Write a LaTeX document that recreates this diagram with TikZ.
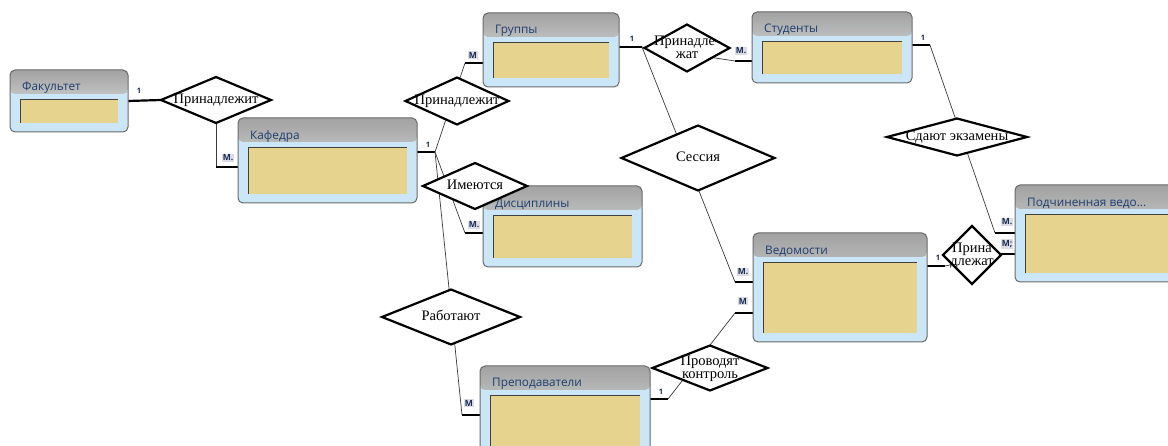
\documentclass[tikz,border=0pt]{standalone}
\usepackage{fontspec}
\setmainfont{Liberation Serif}
\newfontfamily\uifont{Open Sans}
\usetikzlibrary{shapes.geometric}
\definecolor{boxBlue}{HTML}{CBE7F7}
\definecolor{boxBorder}{HTML}{6A6A6A}
\definecolor{hdrTop}{HTML}{A2A2A2}
\definecolor{hdrBot}{HTML}{F0F2F4}
\definecolor{fieldYellow}{HTML}{E6D38D}
\definecolor{titleBlue}{HTML}{1F3E6E}
\definecolor{connGray}{HTML}{3A3A3A}
\definecolor{cardBg}{HTML}{DCDCE6}
\definecolor{cardText}{HTML}{1A2A50}
\pgfdeclarelayer{bg}
\pgfdeclarelayer{paper}
\pgfsetlayers{paper,bg,main}
\newcommand\rtext[1]{\makebox[0pt]{\smash{\raisebox{-0.3em}{\begin{tabular}[c]{@{}c@{}}#1\end{tabular}}}}}
\newcommand\entity[6]{%
  \node[ebox, minimum width={(#4-#2)*1pt}, minimum height={(#5-#3)*1pt}] (#1) at ({(#2+#4)/2},{(#3+#5)/2}) {};
  \node[efield, minimum width={(#4-#2-20)*1pt}, minimum height={(#5-#3-38)*1pt}] (#1f) at ({(#2+#4)/2},{(#3+#5+20)/2}) {};
  \draw[fline] (#1f.south west) -- (#1f.north west) -- (#1f.north east);
  \node[etitle] (#1t) at (#2+12,#3+18) {#6};
}
\begin{document}
\begin{tikzpicture}[x=1pt,y=-1pt,
  ebox/.style={draw=boxBorder, line width=1pt, rounded corners=5pt, fill=boxBlue, inner sep=0pt, outer sep=0pt,
    path picture={\shade[top color=hdrTop, bottom color=hdrBot] (path picture bounding box.north west) rectangle ([yshift=-24pt]path picture bounding box.north east);}},
  efield/.style={fill=fieldYellow, inner sep=0pt, outer sep=0pt},
  fline/.style={draw=black!75, line width=0.8pt},
  etitle/.style={anchor=west, inner sep=0pt, text=titleBlue, font=\uifont\fontsize{11.8}{13}\selectfont},
  rel/.style={diamond, draw=black, line width=2.2pt, fill=white, inner sep=0pt, outer sep=0pt, font=\fontsize{14.5}{13}\selectfont},
  conn/.style={draw=connGray, line width=0.7pt},
  stub/.style={draw=black, line width=2.2pt},
  cardone/.style={inner sep=0.5pt, text=cardText, font=\uifont\bfseries\fontsize{7.5}{8}\selectfont},
  cardm/.style={inner sep=1pt, fill=cardBg, text=cardText, font=\uifont\bfseries\fontsize{8.5}{9}\selectfont}]
\useasboundingbox (0,0) rectangle (1168,446);
\clip (0,0) rectangle (1168,446);
\begin{pgfonlayer}{paper}
\fill[white] (0,0) rectangle (1168,446);
\end{pgfonlayer}

% entities
\entity{fak}{10}{70}{128}{132}{Факультет}
\entity{kaf}{238}{118}{417}{203}{Кафедра}
\entity{grp}{483}{13}{619}{87}{Группы}
\entity{stu}{752}{12}{912}{83}{Студенты}
\entity{dis}{483}{186}{642}{267}{Дисциплины}
\entity{ved}{753}{233}{927}{342}{Ведомости}
\entity{pod}{1015}{185}{1182}{282}{Подчиненная ведо...}
\entity{pre}{480}{366}{650}{456}{Преподаватели}

% relationships
\node[rel, minimum width=110pt, minimum height=46pt] (r1) at (216,100) {\rtext{Принадлежит}};
\node[rel, minimum width=103pt, minimum height=47pt] (r2) at (457,101) {\rtext{Принадлежит}};
\node[rel, minimum width=104pt, minimum height=46pt] (r3) at (475,186) {\rtext{Имеются}};
\node[rel, minimum width=138pt, minimum height=55pt] (r4) at (451,317) {\rtext{Работают}};
\node[rel, minimum width=85pt, minimum height=47pt] (r5) at (687,48) {\rtext{Принадле-\\жат}};
\node[rel, minimum width=153pt, minimum height=65pt] (r6) at (698,158) {\rtext{Сессия}};
\node[rel, minimum width=140pt, minimum height=37pt] (r7) at (957,137) {\rtext{Сдают экзамены}};
\node[rel, minimum width=115pt, minimum height=45pt] (r8) at (710,368) {\rtext{Проводят\\контроль}};
\node[rel, minimum width=58pt, minimum height=58pt] (r9) at (972,255) {\rtext{Прина\\длежат}};

% connection points
\coordinate (kafM) at (218,167);
\coordinate (kafJ) at (435,152);
\coordinate (grpM) at (465,63);
\coordinate (disM) at (465,233);
\coordinate (preM) at (462,415);
\coordinate (grpJ) at (642,47);
\coordinate (stuM) at (735,61);
\coordinate (vedM1) at (735,282);
\coordinate (preJ) at (668,399);
\coordinate (vedM2) at (735,313);
\coordinate (stuJ) at (930,45);
\coordinate (podM1) at (995,233);
\coordinate (vedJ) at (945,266);
\coordinate (podM2) at (1000,254);

\begin{pgfonlayer}{bg}
\draw[stub] (fak.east) -- (r1.west);
\draw[conn] (r1.south) -- (r1.south |- kafM);
\draw[stub] (r1.south |- kafM) -- (kaf.west |- kafM);
\draw[stub] (kaf.east |- kafJ) -- (kafJ);
\draw[conn] (kafJ) -- (grpM);
\draw[conn] (kafJ) -- (disM);
\draw[conn] (kafJ) -- (preM);
\draw[stub] (grpM) -- (grp.west |- grpM);
\draw[stub] (disM) -- (dis.west |- disM);
\draw[stub] (preM) -- (pre.west |- preM);
\draw[stub] (grp.east |- grpJ) -- (grpJ);
\draw[conn] (grpJ) -- (stuM);
\draw[conn] (grpJ) -- (vedM1);
\draw[stub] (stuM) -- (stu.west |- stuM);
\draw[stub] (vedM1) -- (ved.west |- vedM1);
\draw[stub] (pre.east |- preJ) -- (preJ);
\draw[conn] (preJ) -- (vedM2);
\draw[stub] (vedM2) -- (ved.west |- vedM2);
\draw[stub] (stu.east |- stuJ) -- (stuJ);
\draw[conn] (stuJ) -- (podM1);
\draw[stub] (podM1) -- (pod.west |- podM1);
\draw[stub] (ved.east |- vedJ) -- (vedJ);
\draw[conn] (vedJ) -- (podM2);
\draw[stub] (podM2) -- (pod.west |- podM2);
\end{pgfonlayer}

% cardinalities
\node[cardone] (l1) at (139,91) {1};
\node[cardm] (l2) at (228,158) {M.};
\node[cardone] (l3) at (428,145) {1};
\node[cardm] (l4) at (473,55) {M};
\node[cardm] (l5) at (474,225) {M.};
\node[cardm] (l6) at (469,403) {M};
\node[cardone] (l7) at (632,39) {1};
\node[cardm] (l8) at (741,51) {M.};
\node[cardm] (l9) at (743,272) {M.};
\node[cardm] (l10) at (743,301) {M};
\node[cardone] (l11) at (661,392) {1};
\node[cardone] (l12) at (923,38) {1};
\node[cardm] (l13) at (1007,222) {M.};
\node[cardm] (l14) at (1007,244) {M;};
\node[cardone] (l15) at (938,258) {1};
\end{tikzpicture}
\end{document}
